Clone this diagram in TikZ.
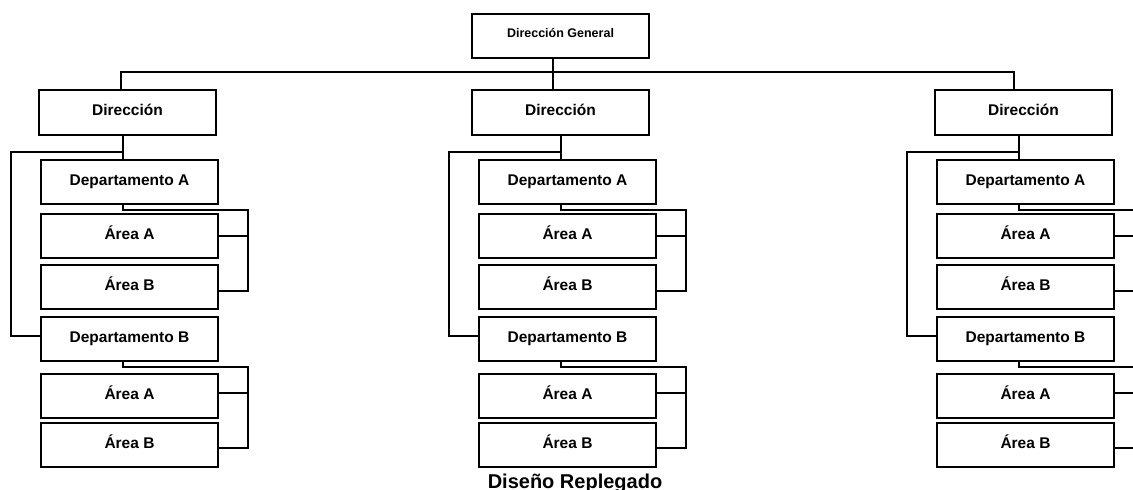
\documentclass[tikz,border=0pt]{standalone}
\usepackage{fontspec}
\setmainfont{Liberation Sans}
\begin{document}
\begin{tikzpicture}[x=1pt,y=-1pt,
  line width=2pt,
  unit/.style={draw, rectangle, inner sep=0pt, minimum width=177pt, minimum height=44pt,
    font=\fontsize{15.5}{18}\selectfont\bfseries, text height=11pt, text depth=4.4pt},
  topunit/.style={unit, font=\fontsize{12.5}{15}\selectfont\bfseries, text height=9pt, text depth=6.2pt},
  caption/.style={font=\fontsize{20}{24}\selectfont\bfseries, inner sep=0pt, anchor=base}]
\useasboundingbox (0,0) rectangle (1133,490);
\clip (0,0) rectangle (1133,490);

% head of the chart
\node[topunit] (dg) at (560.5,36) {Dirección General};

% three directorates, each with two departments and their areas
\foreach \c/\dx/\px in {L/39/41, M/472/479, R/935/937}{
  \node[unit, minimum height=45pt] (dir\c) at ({\dx+88.5},112.5) {Dirección};
  \node[unit] (deptA\c)  at ({\px+88.5},182)   {Departamento A};
  \node[unit] (areaA1\c) at ({\px+88.5},236)   {Área A};
  \node[unit] (areaB1\c) at ({\px+88.5},287)   {Área B};
  \node[unit] (deptB\c)  at ({\px+88.5},339)   {Departamento B};
  \node[unit] (areaA2\c) at ({\px+88.5},396)   {Área A};
  \node[unit] (areaB2\c) at ({\px+88.5},445)   {Área B};
  \coordinate (drop\c)  at ({\px+82},152);
  \coordinate (trunk\c) at ({\px-30},152);
  \coordinate (busA\c)  at ({\px+207},210);
  \coordinate (busB\c)  at ({\px+207},367);
  % directorate down to its departments
  \draw (dir\c.south -| drop\c) -- (deptA\c.north -| drop\c);
  \draw (drop\c) -- (trunk\c) |- ([yshift=3pt]deptB\c.west);
  % department A and its areas
  \draw (deptA\c.south -| drop\c) |- (busA\c) |- ([yshift=-4pt]areaB1\c.east);
  \draw (areaA1\c.east) -- (areaA1\c.east -| busA\c);
  % department B and its areas
  \draw (deptB\c.south -| drop\c) |- (busB\c) |- ([yshift=-3pt]areaB2\c.east);
  \draw ([yshift=3pt]areaA2\c.east) -- ([yshift=3pt]areaA2\c.east -| busB\c);
}

% head down to the directorates
\coordinate (bar) at (553,72);
\draw ([xshift=-7.5pt]dg.south) -- ([xshift=-7.5pt]dirM.north);
\draw ([xshift=-6.5pt]dirL.north) |- (bar) -| ([xshift=-9.5pt]dirR.north);

\node[caption] (title) at (575,488) {Diseño Replegado};
\end{tikzpicture}
\end{document}
